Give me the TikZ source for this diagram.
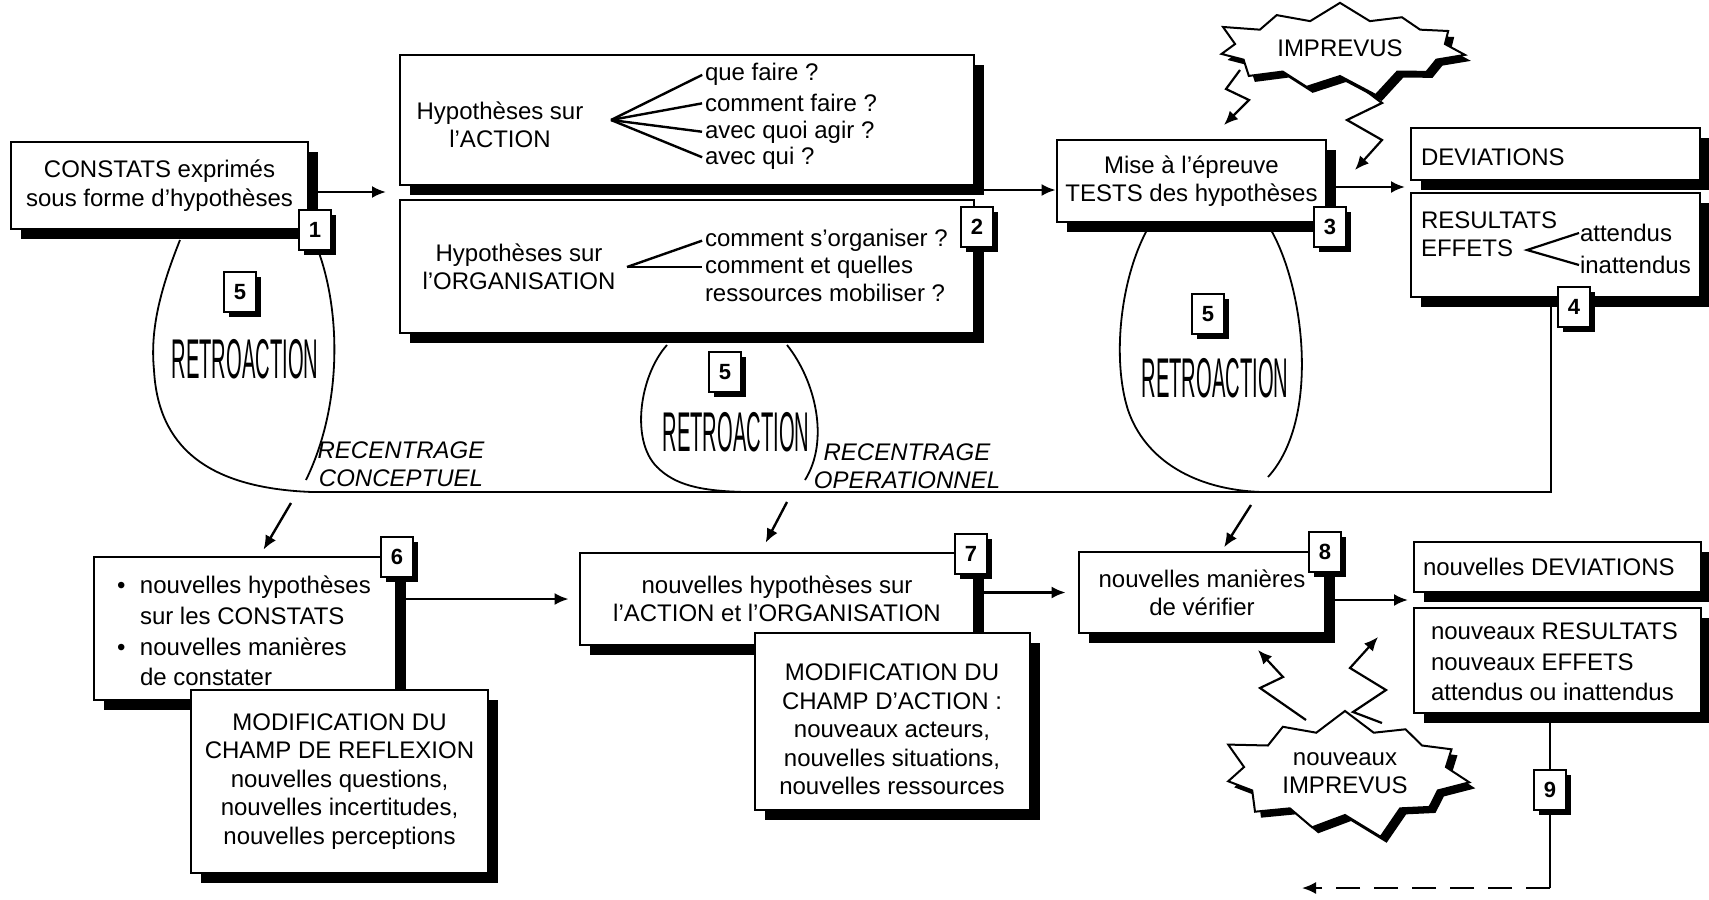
\documentclass[tikz,border=0pt]{standalone}
\usepackage{fontspec}
\setmainfont{Liberation Sans}
\usepackage{tikz}
\usetikzlibrary{shadows,shapes.symbols,arrows.meta}
\tikzset{
every picture/.style={line width=1pt, >={Latex[length=7pt,width=6pt]}},
box/.style={draw, fill=white, line width=1.4pt, inner sep=0pt, align=center,
  font=\fontsize{12}{14.2}\selectfont,
  drop shadow={shadow xshift=5pt, shadow yshift=-5pt, fill=black, opacity=1}},
badge/.style={draw, fill=white, line width=1.2pt, inner sep=0pt,
  minimum width=16pt, minimum height=20pt, font=\fontsize{11}{11}\selectfont\bfseries,
  drop shadow={shadow xshift=2.5pt, shadow yshift=-2.5pt, fill=black, opacity=1}},
txt/.style={inner sep=0pt, align=left, font=\fontsize{12}{14.2}\selectfont},
burst/.style={starburst, draw, fill=white, line width=1pt, inner sep=0pt, align=center,
  starburst points=11, starburst point height=12pt, font=\fontsize{12}{14}\selectfont,
  drop shadow={shadow xshift=3pt, shadow yshift=-3pt, fill=black, opacity=1}},
loopline/.style={line width=0.9pt},
zig/.style={->, line width=1.1pt}
}
\newcommand{\retrotext}{\scalebox{0.36}[1]{\fontsize{28}{28}\selectfont RETROACTION}}

\begin{document}
\begin{tikzpicture}[x=0.5pt, y=-0.5pt]
  \path[use as bounding box, fill=white] (0,0) rectangle (1709,900);

  \node[box, minimum width=148.5pt, minimum height=43.5pt] (constats) at (159.5,185.5) {CONSTATS exprimés\\sous forme d'hypothèses};
  \node[box, minimum width=287pt, minimum height=65pt] (action) at (687,120) {};
  \node[box, minimum width=287pt, minimum height=66.5pt] (organis) at (687,266.5) {};
  \node[box, minimum width=134.5pt, minimum height=41pt] (tests) at (1191.5,181) {Mise à l'épreuve\\TESTS des hypothèses};
  \node[box, minimum width=144.5pt, minimum height=26pt] (deviat) at (1555.5,154) {};
  \node[box, minimum width=144.5pt, minimum height=52pt] (result) at (1555.5,245) {};

  \node[box, minimum width=151pt, minimum height=71.5pt] (nouvhyp) at (245,628.5) {};
  \node[box, minimum width=148.5pt, minimum height=91.5pt] (champrefl) at (339.5,781.5) {MODIFICATION DU\\CHAMP DE REFLEXION\\nouvelles questions,\\nouvelles incertitudes,\\nouvelles perceptions};
  \node[box, minimum width=197pt, minimum height=46pt] (nouvact) at (777,599) {nouvelles hypothèses sur\\l'ACTION et l'ORGANISATION};
  \node[box, minimum width=137.5pt, minimum height=88.5pt] (champact) at (892.5,721.5) {};
  \node[box, minimum width=123pt, minimum height=40.5pt] (verif) at (1202,592.5) {nouvelles manières\\de vérifier};
  \node[box, minimum width=143.5pt, minimum height=25pt] (nouvdev) at (1557.5,567) {};
  \node[box, minimum width=143.5pt, minimum height=52.5pt] (nouvres) at (1557.5,660.5) {};

  \coordinate (base) at (1551,492);
  \draw[loopline] (180,240) .. controls (160,290) and (150,330) .. (154,370) .. controls (158,445) and (205,488) .. (312,492) -- (base) -- (base |- result.south);
  \draw[loopline] (314,240) .. controls (340,300) and (345,400) .. (306,480);
  \draw[loopline] (667,345) .. controls (640,375) and (630,440) .. (657,467) .. controls (675,485) and (700,491) .. (745,492);
  \draw[loopline] (787,345) .. controls (815,380) and (830,440) .. (805,480);
  \draw[loopline] (1147,230) .. controls (1120,280) and (1112,360) .. (1128,410) .. controls (1145,460) and (1195,490) .. (1262,492);
  \draw[loopline] (1271,230) .. controls (1305,290) and (1320,420) .. (1268,477);

  \coordinate (za) at (1240,70);
  \coordinate (zb) at (1345,75);
  \coordinate (zc) at (1306,720);
  \coordinate (zd) at (1382,723);
  \draw[zig] (za) -- ++(-14,19) -- ++(23,11) -- ++(-25,25);
  \draw[zig] (zb) -- ++(37,28) -- ++(-35,17) -- ++(35,20) -- ++(-27,30);
  \draw[zig] (zc) -- ++(-46,-32) -- ++(23,-11) -- ++(-25,-27);
  \draw[zig] (zd) -- ++(-29,-11) -- ++(33,-22) -- ++(-36,-22) -- ++(28,-31);
  \node[burst, minimum width=130pt, minimum height=52pt] (imp) at (1340,48) {IMPREVUS};
  \node[burst, minimum width=130pt, minimum height=70pt, starburst point height=14pt] (nimp) at (1345,773) {nouveaux\\IMPREVUS};

  \node[txt, align=center] (actlbl) at (500,125) {Hypothèses sur\\l'ACTION};
  \coordinate (fanact) at (611,120);
  \node[txt, anchor=west] (qa) at (704,74) {que faire ?};
  \node[txt, anchor=west] (qb) at (704,103) {comment faire ?};
  \node[txt, anchor=west] (qc) at (704,132) {avec quoi agir ?};
  \node[txt, anchor=west] (qd) at (704,158) {avec qui ?};
  \foreach \q in {qa,qb,qc,qd}
    \draw[line width=1.2pt, shorten >=1pt] (fanact) -- (\q.west);

  \node[txt, align=center] (orglbl) at (519,267) {Hypothèses sur\\l'ORGANISATION};
  \coordinate (fanorg) at (627,267);
  \node[txt, anchor=west] (oa) at (704,240) {comment s'organiser ?};
  \node[txt, anchor=west] (ob) at (704,267) {comment et quelles};
  \node[txt, anchor=west] (oc) at (704,293) {ressources mobiliser ?};
  \foreach \q in {oa,ob}
    \draw[line width=1.2pt, shorten >=1pt] (fanorg) -- (\q.west);

  \node[txt, anchor=west] (devtxt) at (1420,157) {DEVIATIONS};
  \node[txt, anchor=west] (resu) at (1420,220) {RESULTATS};
  \node[txt, anchor=west] (effe) at (1420,248) {EFFETS};
  \coordinate (fanres) at (1527,250);
  \node[txt, anchor=west] (att) at (1579,233) {attendus};
  \node[txt, anchor=west] (inatt) at (1579,265) {inattendus};
  \draw[line width=1.1pt] (att.west) -- (fanres) -- (inatt.west);

  \node[txt, anchor=west, font=\fontsize{12}{15.3}\selectfont] (nhtxt) at (116,631) {\makebox[11.5pt][l]{\textbullet}nouvelles hypothèses\\\hspace*{11.5pt}sur les CONSTATS\\\makebox[11.5pt][l]{\textbullet}nouvelles manières\\\hspace*{11.5pt}de constater};
  \node[txt, align=center] (catxt) at (892,729.5) {MODIFICATION DU\\CHAMP D'ACTION :\\nouveaux acteurs,\\nouvelles situations,\\nouvelles ressources};
  \node[txt, anchor=west] (ndevtxt) at (1422,567) {nouvelles DEVIATIONS};
  \node[txt, anchor=west, font=\fontsize{12}{15.3}\selectfont] (nrestxt) at (1430,662) {nouveaux RESULTATS\\nouveaux EFFETS\\attendus ou inattendus};

  \node[txt, align=center, font=\fontsize{12}{14}\selectfont\itshape] (rca) at (401,464) {RECENTRAGE\\CONCEPTUEL};
  \node[txt, align=center, font=\fontsize{12}{14}\selectfont\itshape] (rcb) at (907,466) {RECENTRAGE\\OPERATIONNEL};

  \foreach \n/\bx/\by/\rx/\ry in {a/240/292/245/359, b/725/372/736/432, c/1208/314/1215/378}{
    \node[badge] (five\n) at (\bx,\by) {5};
    \node[inner sep=0pt] (retro\n) at (\rx,\ry) {\retrotext};
  }

  \coordinate (gapa) at (400,192);
  \coordinate (gapb) at (984,190);
  \coordinate (gapc) at (1411,187);
  \coordinate (gapd) at (1414,600);
  \draw[->, line width=1.2pt] (constats.east |- gapa) -- ([xshift=-7pt]gapa);
  \draw[->, line width=1.2pt] (action.east |- gapb) -- (gapb -| tests.west);
  \draw[->, line width=1.2pt] (tests.east |- gapc) -- ([xshift=-3pt]gapc);
  \draw[->, line width=1.2pt] (nouvhyp.east |- nouvact.west) -- ([xshift=-5pt]nouvact.west);
  \draw[->, line width=1.2pt] (nouvact.east |- verif.west) -- ([xshift=-6pt]verif.west);
  \draw[->, line width=1.2pt] (verif.east |- gapd) -- ([xshift=-3pt]gapd);

  \coordinate (dna) at (291,503);
  \coordinate (dnb) at (787,502);
  \coordinate (dnc) at (1251,505);
  \draw[->, line width=1.2pt, shorten >=3.5pt] (dna) -- ([xshift=7.5pt]nouvhyp.north);
  \draw[->, line width=1.2pt, shorten >=5pt] (dnb) -- ([xshift=-8pt]nouvact.north);
  \draw[->, line width=1.2pt, shorten >=2pt] (dnc) -- ([xshift=10pt]verif.north);

  \node[badge] (b1) at (315,230) {1};
  \node[badge] (b2) at (977,227) {2};
  \node[badge] (b3) at (1330,227) {3};
  \node[badge] (b4) at (1574,307) {4};
  \node[badge] (b6) at (397,557) {6};
  \node[badge] (b7) at (971,554) {7};
  \node[badge] (b8) at (1325,552) {8};
  \node[badge] (b9) at (1550,790) {9};

  \coordinate (back) at (1302,888);
  \draw (b9.north |- nouvres.south) -- (b9.north);
  \draw (b9.south) -- (b9.south |- back);
  \draw[->, dash pattern=on 12pt off 7pt] (b9.south |- back) -- (back);
\end{tikzpicture}
\end{document}
